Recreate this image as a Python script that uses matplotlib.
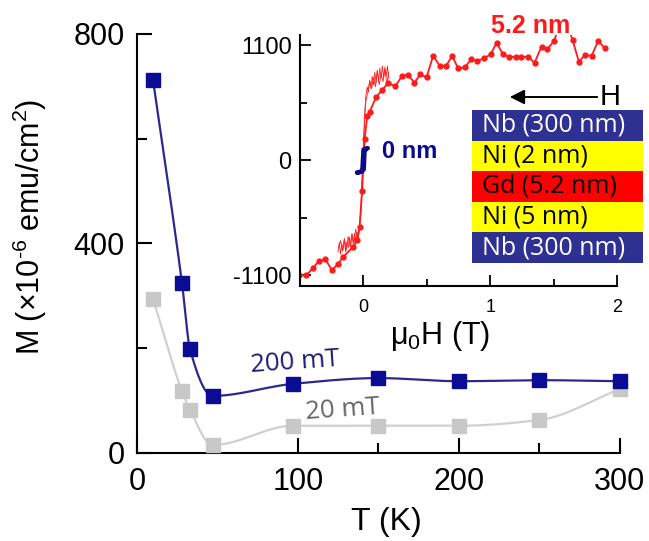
import numpy as np
import matplotlib
matplotlib.use("Agg")
import matplotlib.pyplot as plt
from matplotlib.ticker import MultipleLocator
from matplotlib.patches import FancyArrowPatch

plt.rcParams['font.family'] = ['Liberation Sans', 'DejaVu Sans']
plt.rcParams['mathtext.default'] = 'regular'
plt.rcParams['axes.unicode_minus'] = False

# main panel: M(T) at two fields
temp = [10, 28, 33, 47, 97, 150, 200, 250, 300]
m_200mT = [712, 324, 198, 109, 132, 143, 137, 139, 137]
m_20mT = [294, 118, 82, 15, 52, 52, 52, 63, 122]

# inset: M(H) loop of the 5.2 nm sample (marked sweep)
h_sweep = [-0.55, -0.505, -0.45, -0.40, -0.353, -0.30, -0.248, -0.203, -0.158,
           -0.079, -0.047, -0.03, -0.01, 0.01, 0.03, 0.05, 0.10, 0.148, 0.192,
           0.253, 0.306, 0.353, 0.403, 0.45, 0.498, 0.551, 0.603, 0.653, 0.70,
           0.748, 0.80, 0.851, 0.899, 0.951, 1.004, 1.051, 1.101, 1.149, 1.20,
           1.246, 1.30, 1.35, 1.405, 1.452, 1.505, 1.58, 1.65, 1.70, 1.747,
           1.80, 1.852, 1.905]
m_sweep = [-886, -1103, -1103, -1036, -969, -950, -1052, -998, -925,
           -829, -765, -640, -300, 200, 420, 462, 600, 670, 733,
           708, 807, 813, 740, 823, 791, 998, 899, 902, 995,
           877, 886, 963, 950, 972, 1011, 1122, 1011, 988, 988,
           988, 988, 931, 1084, 1062, 1141, 1400, 1148, 940, 1004,
           995, 1141, 1068]

# inset: noisy low-field traces of the same loop (no markers)
h_up = [-0.20, -0.19, -0.18, -0.17, -0.16, -0.15, -0.14, -0.13, -0.12, -0.11,
        -0.10, -0.09, -0.08, -0.07, -0.06, -0.05, -0.04, -0.03, -0.02, -0.01,
        0.0, 0.01, 0.02, 0.03, 0.04, 0.05, 0.06, 0.07, 0.08, 0.09, 0.10,
        0.11, 0.12, 0.13, 0.14, 0.15, 0.16, 0.17, 0.18, 0.19, 0.20]
m_up = [-880, -790, -900, -800, -860, -760, -880, -780, -840, -740,
        -830, -720, -800, -700, -780, -690, -720, -640, -480, -150,
        150, 450, 620, 700, 650, 760, 690, 800, 720, 840, 740,
        860, 760, 880, 780, 900, 790, 890, 800, 900, 780]
h_down = [0.20, 0.185, 0.17, 0.155, 0.14, 0.125, 0.11, 0.095, 0.08, 0.065,
          0.05, 0.035, 0.02, 0.01, 0.0, -0.01, -0.02, -0.03, -0.045, -0.06,
          -0.075, -0.09, -0.105, -0.12, -0.135, -0.15, -0.165, -0.18, -0.195]
m_down = [840, 730, 870, 750, 830, 720, 850, 700, 790, 680,
          760, 650, 560, 400, 120, -250, -520, -640, -760, -660,
          -800, -700, -830, -730, -860, -750, -870, -770, -840]

# inset: 0 nm reference loop
h_ref = [-0.05, -0.03, -0.01, 0.004, 0.01, 0.02, 0.035,
         0.035, 0.015, 0.0, -0.008, -0.015, -0.03, -0.05]
m_ref = [-120, -118, -110, -90, 80, 105, 112,
         115, 110, 100, -80, -105, -115, -120]

layers = ['Nb (300 nm)', 'Ni (2 nm)', 'Gd (5.2 nm)', 'Ni (5 nm)', 'Nb (300 nm)']
layer_colors = ['#2e3192', '#ffff00', '#ff0000', '#ffff00', '#2e3192']
layer_text = ['white', 'black', 'black', 'black', 'white']


def pchip(x, y, xs):
    x = np.asarray(x, float)
    y = np.asarray(y, float)
    h = np.diff(x)
    d = np.diff(y) / h
    m = np.zeros_like(y)
    for k in range(1, len(x) - 1):
        if d[k - 1] * d[k] > 0:
            w1 = 2 * h[k] + h[k - 1]
            w2 = h[k] + 2 * h[k - 1]
            m[k] = (w1 + w2) / (w1 / d[k - 1] + w2 / d[k])
    m[0], m[-1] = d[0], d[-1]
    i = np.clip(np.searchsorted(x, xs) - 1, 0, len(h) - 1)
    t = (xs - x[i]) / h[i]
    return ((2*t**3 - 3*t**2 + 1) * y[i] + (t**3 - 2*t**2 + t) * h[i] * m[i]
            + (-2*t**3 + 3*t**2) * y[i + 1] + (t**3 - t**2) * h[i] * m[i + 1])


fig = plt.figure(figsize=(6.49, 5.41), dpi=100)

# ---- main axes
ax = fig.add_axes([0.211, 0.1627, 0.744, 0.7745])
navy = '#0b0b94'
grey = '#c8c8c8'
ts = np.linspace(temp[0], temp[-1], 600)
ax.plot(ts, pchip(temp, m_20mT, ts), color='#d0d0d0', lw=1.6, zorder=2)
ax.plot(ts, pchip(temp, m_200mT, ts), color='#2a2a8c', lw=1.6, zorder=3)
ax.plot(temp, m_20mT, 's', color=grey, ms=10, mec=grey, clip_on=False, zorder=4)
ax.plot(temp, m_200mT, 's', color=navy, ms=10, mec=navy, clip_on=False, zorder=5)
ax.text(98, 172, '200 mT', color='#1c1c78', fontsize=18.5, family='Open Sans',
        ha='center', va='center', rotation=4)
ax.text(128, 82, '20 mT', color='#666666', fontsize=18.5, family='Open Sans',
        ha='center', va='center', rotation=4)

ax.set_xlim(0, 300)
ax.set_ylim(0, 800)
ax.xaxis.set_major_locator(MultipleLocator(100))
ax.xaxis.set_minor_locator(MultipleLocator(50))
ax.yaxis.set_major_locator(MultipleLocator(400))
ax.yaxis.set_minor_locator(MultipleLocator(200))
ax.tick_params(which='both', direction='in', width=1.5, labelsize=22)
ax.tick_params(which='major', length=11)
ax.tick_params(which='minor', length=7)
ax.tick_params(axis='x', which='major', pad=10)
ax.tick_params(axis='y', which='major', pad=9)
for s in ('top', 'right'):
    ax.spines[s].set_visible(False)
for s in ('left', 'bottom'):
    ax.spines[s].set_linewidth(1.5)
# plain hyphen in the exponent, as in the original label
fig.text(0.046, 0.58, 'M (×10$^{\u2010 6}$ emu/cm$^2$)', rotation=90,
         ha='center', va='center', fontsize=22)
fig.text(386 / 649, 1 - 522 / 541, 'T (K)', ha='center', va='center',
         fontsize=23)

# ---- inset M(H)
ax_in = fig.add_axes([0.4622, 0.4713, 0.4884, 0.464])
ax_in.plot(h_up, m_up, color='#ff2020', lw=0.6)
ax_in.plot(h_down, m_down, color='#ff2020', lw=0.6)
ax_in.plot(h_sweep, m_sweep, '-o', color='#ff1a1a', lw=1.3, ms=3.5)
ax_in.plot(h_ref, m_ref, color='#0a0a8c', lw=3, solid_capstyle='round')
ax_in.text(0.15, 77, '0 nm', color='#0a0a8c', fontsize=17, fontweight='bold',
           ha='left', va='center')
ax_in.text(1.32, 1285, '5.2 nm', color='#ff1a1a', fontsize=18,
           fontweight='bold', ha='center', va='center', clip_on=False)
ax_in.set_xlim(-0.5, 2)
ax_in.set_ylim(-1205, 1196)
ax_in.set_yticks([-1100, 0, 1100])
ax_in.set_yticks([-550, 550], minor=True)
ax_in.set_xticks([0, 1, 2])
ax_in.set_xticks([0.5, 1.5], minor=True)
ax_in.tick_params(which='both', direction='in', width=1.3)
ax_in.tick_params(which='major', length=8)
ax_in.tick_params(which='minor', length=5)
ax_in.tick_params(axis='y', labelsize=17, pad=6)
ax_in.tick_params(axis='x', labelsize=13, pad=9)
ax_in.patch.set_alpha(0)
for s in ('top', 'right'):
    ax_in.spines[s].set_visible(False)
for s in ('left', 'bottom'):
    ax_in.spines[s].set_linewidth(1.5)
fig.text(440 / 649, 1 - 336 / 541, 'μ$_0$H (T)', ha='center', va='center',
         fontsize=22)

# field direction arrow
fig.patches.append(FancyArrowPatch(
    (600 / 649, 1 - 97 / 541), (507 / 649, 1 - 97 / 541),
    transform=fig.transFigure, arrowstyle='-|>', mutation_scale=22,
    color='black', lw=1.4))
fig.text(610 / 649, 1 - 97 / 541, 'H', fontsize=21, ha='center', va='center')

# ---- layer stack
ax_st = fig.add_axes([0.7273, 0.5139, 0.2635, 0.2828])
ypos = np.arange(len(layers))[::-1]
ax_st.barh(ypos, 1, height=1, left=0, color=layer_colors)
for y, name, tc in zip(ypos, layers, layer_text):
    ax_st.text(0.06, y, name, color=tc, fontsize=18, family='Open Sans',
               ha='left', va='center')
ax_st.set_xlim(0, 1)
ax_st.set_ylim(-0.5, len(layers) - 0.5)
ax_st.axis('off')

fig.savefig('out.png', dpi=100)
